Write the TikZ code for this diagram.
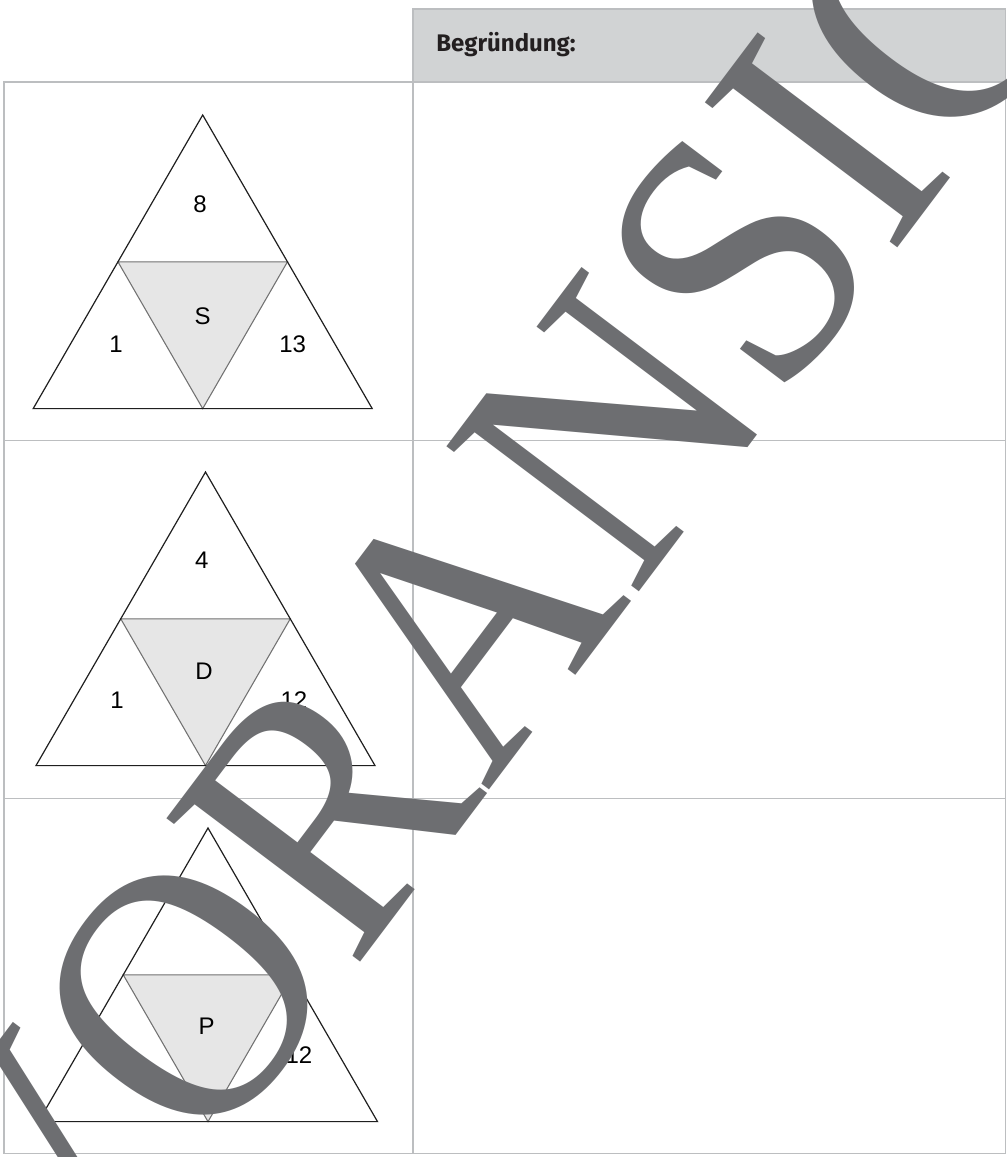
\documentclass[tikz,border=0pt]{standalone}
\usepackage{fontspec}
\setmainfont{Liberation Sans}
\newfontfamily\wmfont{Liberation Serif}
\newfontfamily\headfont{Fira Sans}
\definecolor{wmgray}{HTML}{6D6E71}
\definecolor{tline}{HTML}{BCBEC0}
\definecolor{hfill}{HTML}{D1D3D4}
\definecolor{innerfill}{HTML}{E6E6E6}
\definecolor{innerline}{HTML}{727272}
\definecolor{headtext}{HTML}{231F20}
\begin{document}
\begin{tikzpicture}[x=0.75pt,y=-0.75pt,
  tableline/.style={draw=tline, line width=1.1pt},
  outertri/.style={draw=black!88, line width=0.9pt, line join=miter},
  innertri/.style={fill=innerfill, draw=innerline, line width=0.8pt, line join=miter},
  lbl/.style={font=\fontsize{18}{18}\selectfont, inner sep=0pt, text=black},
  headlbl/.style={font=\headfont\bfseries\fontsize{18}{18}\selectfont, inner sep=0pt, text=headtext},
  watermark/.style={font=\wmfont\fontsize{276}{276}\selectfont, inner sep=0pt, text=wmgray}]
\useasboundingbox (0,0) rectangle (1007,1157);
\fill[white] (0,0) rectangle (1007,1157);

% header cell
\path[fill=hfill, tableline] (413,9) rectangle (1005.5,82);
\node[headlbl, anchor=base west] (head) at (436,51.7) {Begründung:};

% table grid
\draw[tableline] (4,82) rectangle (1005.5,1153.5);
\draw[tableline] (413,82) -- (413,1153.5);
\draw[tableline] (4,440.5) -- (1005.5,440.5);
\draw[tableline] (4,798.3) -- (1005.5,798.3);

% triangles
\foreach \i/\ax/\ay in {1/202.7/115, 2/205.5/472, 3/208/828}{
  \coordinate (a\i) at (\ax,\ay);
  \coordinate (l\i) at ({\ax-169.5},{\ay+293.6});
  \coordinate (r\i) at ({\ax+169.5},{\ay+293.6});
  \coordinate (ml\i) at ({\ax-84.75},{\ay+146.8});
  \coordinate (mr\i) at ({\ax+84.75},{\ay+146.8});
  \coordinate (mb\i) at (\ax,{\ay+293.6});
  \path[innertri] (ml\i) -- (mr\i) -- (mb\i) -- cycle;
  \draw[outertri] (a\i) -- (r\i) -- (l\i) -- cycle;
}

% labels
\node[lbl] (t1top) at (200,204) {8};
\node[lbl] (t1mid) at (202.7,316) {S};
\node[lbl] (t1left) at (116,344) {1};
\node[lbl] (t1right) at (292.7,344) {13};

\node[lbl] (t2top) at (201.7,560) {4};
\node[lbl] (t2mid) at (204,671.7) {D};
\node[lbl] (t2left) at (117,700) {1};
\node[lbl] (t2right) at (294,700) {12};

\node[lbl] (t3mid) at (206.7,1026.7) {P};
\node[lbl] (t3right) at (299,1055) {12};

% watermark
\node[watermark, anchor=base west, rotate=53] (wm) at (62,1357.5) {\scalebox{0.91}[1]{VORANSICHT}};
\end{tikzpicture}
\end{document}
